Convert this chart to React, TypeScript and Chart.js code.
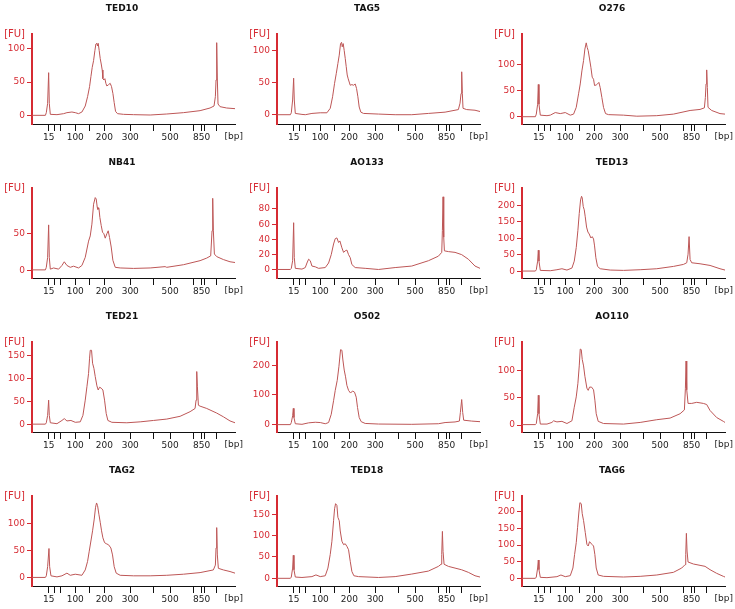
import React, { useRef, useEffect } from "react";
import { Chart, registerables } from "chart.js";

Chart.register(...registerables);

// DNA 1000 ladder: fragment sizes and where they land on the migration axis
const ladderSizes = [15, 25, 50, 100, 150, 200, 300, 400, 500, 700, 850, 1000, 1500];
const ladderTimes = [8.2, 11.0, 13.9, 21.3, 28.4, 35.6, 48.4, 59.8, 68.0, 79.5, 83.6, 85.2, 91.0];
const labelledSizes = [15, 100, 200, 300, 500, 850];

const sampleNames = ["TED10", "TAG5", "O276", "NB41", "AO133", "TED13", "TED21", "O502", "AO110", "TAG2", "TED18", "TAG6"];

// y axis (FU) range and ticks per sample
const yMins = [-13, -14.5, -14, -10, -10.7, -20, -16, -26, -12.6, -16, -18, -23];
const yMaxs = [122, 126, 159, 112, 107.6, 252, 179, 279, 153, 152, 193, 247];
const yTickValues = [
  [0, 50, 100],
  [0, 50, 100],
  [0, 50, 100],
  [0, 50],
  [0, 20, 40, 60, 80],
  [0, 50, 100, 150, 200],
  [0, 50, 100, 150],
  [0, 100, 200],
  [0, 50, 100],
  [0, 50, 100],
  [0, 50, 100, 150],
  [0, 50, 100, 150, 200],
];

// [time, FU]
const ted10 = [[0,0],[6.6,0],[7.05,4],[7.7,18],[8.2,64],[8.52,18],[9.02,1.5],[12.3,1],[15.57,2.5],[17.21,4],[19.67,5],[21.31,4],[22.95,2.5],[24.59,5],[26.23,14],[27.38,28],[28.36,43],[29.02,58],[29.67,72],[30.33,82],[30.98,97],[31.48,107],[31.97,108],[32.3,104],[32.62,108],[33.11,97],[33.61,85],[34.1,77],[34.59,68],[34.92,55],[35.41,53],[35.9,55],[36.39,48],[36.89,44],[37.7,46],[38.52,48],[39.18,43],[39.84,33],[40.49,19],[41.15,6],[42.13,2.5],[45.08,1.5],[50,1],[58.2,0.5],[66.39,2],[74.59,4],[82.79,7],[87.7,11],[89.67,14],[90.33,28],[90.66,53],[90.98,109],[91.31,53],[91.64,17],[92.62,13],[95.9,11],[100,10]];
const tag5 = [[0,0],[6.6,0],[7.05,3],[7.7,23],[8.2,57],[8.52,23],[9.02,2],[12.3,0.5],[13.93,0],[17.21,2],[21.31,3],[24.59,3],[26.23,10],[27.38,28],[28.36,49],[29.18,64],[30,80],[30.66,93],[31.31,111],[31.8,113],[32.13,106],[32.62,111],[33.11,100],[33.61,88],[34.1,75],[34.59,62],[35.08,56],[35.57,51],[36.07,46],[36.89,47],[37.7,46],[38.52,48],[39.18,41],[39.84,28],[40.49,12],[41.31,4],[42.62,2],[50,1],[58.2,0],[66.39,0],[74.59,2],[82.79,4],[89.34,8],[90.16,18],[90.66,33],[90.98,67],[91.31,33],[91.64,10],[93.44,8],[97.54,7],[100,5]];
const o276 = [[0,0],[6.6,0],[7.05,5],[7.7,24],[8.03,62],[8.36,24],[9.02,3],[12.3,2],[13.93,3],[16.39,8],[18.85,6],[21.31,8],[23.77,3],[25.41,5],[26.72,18],[27.87,44],[28.69,63],[29.51,88],[30.33,108],[30.98,130],[31.64,142],[32.13,133],[32.62,127],[33.28,111],[33.93,95],[34.59,76],[35.25,72],[35.74,60],[36.56,61],[37.21,63],[37.87,66],[38.52,56],[39.34,37],[40.16,18],[41.15,6],[42.62,4],[50,3],[56.56,1],[66.39,2],[74.59,5],[82.79,12],[87.7,14],[89.84,17],[90.33,37],[90.66,63],[90.98,90],[91.31,56],[91.64,18],[93.44,12],[97.54,6],[100,5]];
const nb41 = [[0,1],[6.6,1],[7.05,4.5],[7.7,18],[8.2,62],[8.52,18],[9.02,2],[10.66,3.6],[13.11,2],[14.75,7],[15.9,12],[17.21,7],[18.85,4.5],[20.49,6],[22.95,3.6],[24.59,7],[26.23,18],[27.87,40],[28.69,47],[29.51,63],[30.33,90],[31.15,99],[31.64,97],[32.13,86],[32.46,83],[32.95,85],[33.44,72],[34.1,61],[34.75,52],[35.41,50],[36.07,44],[36.89,50],[37.54,54],[38.2,45],[39.02,32],[39.84,14],[41.0,4.5],[43.44,3.6],[50,3],[58.2,3.6],[65.57,5.4],[66.39,4.5],[74.59,8],[82.79,13.5],[86.07,17],[88.03,20],[88.69,54],[89.02,98],[89.34,54],[89.84,22.5],[90.98,19],[94.26,15],[97.54,12],[100,11]];
const ao133 = [[0,0.5],[6.6,0.5],[7.05,2],[7.7,12],[8.2,62],[8.52,16],[9.02,2],[12.3,1],[13.93,3],[14.75,9],[15.57,14],[16.39,12],[17.21,5],[18.85,4],[20.49,2],[23.77,3],[25.41,9],[26.72,20],[27.87,34],[28.69,41],[29.51,42],[30.33,36],[30.98,38],[31.97,29],[32.79,23],[33.61,25],[34.43,26],[35.25,20],[36.07,16],[36.89,7],[38.52,3],[43.44,2],[50,0.5],[58.2,3],[66.39,5],[74.59,12],[79.51,18],[81.15,23],[81.48,52],[81.8,96],[82.13,43],[82.46,25],[84.43,24],[87.7,23],[90.98,20],[94.26,14],[97.54,5],[100,2]];
const ted13 = [[0,1],[6.6,1],[7.05,5],[7.7,31],[8.03,64],[8.36,31],[9.02,3],[13.93,2],[17.21,5],[19.67,8],[22.13,4],[24.59,10],[25.74,31],[26.72,72],[27.54,124],[28.2,175],[28.85,216],[29.34,227],[29.67,222],[30.16,196],[30.66,186],[31.15,165],[31.8,134],[32.46,119],[33.11,113],[33.93,101],[34.59,105],[35.25,98],[35.74,77],[36.39,41],[37.21,15],[38.52,8],[43.44,4],[50,3],[58.2,5],[66.39,8],[74.59,15],[79.51,21],[81.15,26],[81.8,52],[82.3,105],[82.79,36],[83.61,26],[87.7,23],[92.62,18],[97.54,8],[100,4]];
const ted21 = [[0,1],[6.6,1],[7.05,4],[7.7,20],[8.2,53],[8.52,20],[9.02,4],[12.3,2],[14.75,9],[15.9,13],[17.21,8],[19.18,9],[21.31,5],[23.77,6],[25.08,20],[26.23,53],[27.05,82],[27.87,111],[28.36,144],[28.69,161],[29.34,161],[29.84,133],[30.49,122],[31.15,104],[31.97,84],[32.62,75],[33.28,81],[34.1,79],[34.92,75],[35.74,53],[36.56,24],[37.38,9],[39.34,5],[46.72,4],[53.28,6],[59.84,9],[66.39,12],[72.95,18],[77.87,28],[80.33,35],[80.82,53],[81.15,115],[81.48,82],[81.97,42],[82.79,40],[86.07,35],[90.98,25],[94.26,17],[97.54,8],[100,4]];
const o502 = [[0,-1],[6.6,-1],[7.05,6],[7.7,29],[8.03,54],[8.36,23],[9.02,2],[12.3,0],[15.57,5],[18.85,7],[21.31,6],[23.77,2],[25.41,6],[26.72,34],[27.87,80],[28.69,115],[29.67,149],[30.49,195],[31.31,253],[31.97,251],[32.46,218],[33.11,184],[33.77,161],[34.43,132],[35.25,115],[36.23,106],[37.21,113],[38.2,109],[39.02,92],[39.67,57],[40.49,23],[41.48,9],[43.44,3],[50,1],[66.39,0],[79.51,2],[82.79,6],[87.7,8],[89.84,11],[90.33,40],[90.98,84],[91.48,40],[91.97,14],[95.9,11],[100,9]];
const ao110 = [[0,1],[6.6,1],[7.05,3],[7.7,21],[8.03,55],[8.36,21],[9.02,2],[12.3,2],[14.75,5],[15.57,8],[17.21,6],[19.67,7],[22.13,3],[24.59,8],[25.74,33],[26.72,52],[27.54,77],[28.2,109],[28.69,140],[29.18,139],[29.67,121],[30.33,109],[30.98,90],[31.97,68],[32.62,64],[33.28,70],[34.26,70],[35.25,65],[35.9,46],[36.56,21],[37.54,7],[40.16,3],[50,2],[58.2,5],[66.39,10],[72.95,13],[77.87,21],[80,28],[80.49,68],[80.82,118],[81.15,65],[81.8,40],[83.61,40],[86.07,42],[89.34,40],[90.98,38],[92.62,27],[95.9,14],[99.18,7],[100,5]];
const tag2 = [[0,0],[6.6,0],[7.05,3],[7.7,20],[8.36,54],[8.69,20],[9.34,3],[12.3,1],[14.75,3],[17.21,8],[18.85,4],[21.31,6],[24.59,4],[26.23,14],[27.38,30],[28.2,49],[29.02,68],[29.84,87],[30.66,109],[31.31,131],[31.8,139],[32.3,134],[32.95,118],[33.61,103],[34.26,87],[34.92,74],[35.74,65],[36.56,63],[37.7,61],[38.85,55],[39.67,42],[40.49,20],[41.48,8],[43.44,4],[50,3],[58.2,3],[66.39,4],[74.59,6],[82.79,9],[89.34,14],[90.33,23],[90.66,55],[90.98,93],[91.31,42],[91.8,17],[94.26,14],[97.54,11],[100,8]];
const ted18 = [[0,0],[6.6,0],[7.05,3],[7.7,24],[8.03,54],[8.36,20],[9.02,3],[12.3,2],[17.21,4],[19.18,8],[21.31,4],[23.77,6],[25.08,24],[26.23,56],[27.05,87],[27.87,135],[28.36,163],[28.85,175],[29.51,171],[30,143],[30.66,135],[31.15,111],[31.97,87],[32.79,79],[33.61,81],[34.43,75],[35.25,67],[36.07,40],[36.89,16],[37.87,6],[40.16,4],[50,2],[58.2,4],[66.39,10],[74.59,17],[79.51,28],[80.82,33],[81.15,56],[81.48,110],[81.8,63],[82.3,33],[84.43,28],[87.7,24],[90.98,20],[94.26,14],[97.54,6],[100,3]];
const tag6 = [[0,0],[6.6,0],[7.05,4],[7.7,31],[8.03,55],[8.36,26],[9.02,3],[12.3,2],[17.21,5],[19.18,10],[21.31,5],[23.77,8],[25.08,31],[25.9,71],[26.72,107],[27.38,153],[28.03,199],[28.52,227],[29.18,224],[29.67,194],[30.33,173],[31.15,138],[31.97,102],[32.62,97],[33.28,110],[34.43,102],[35.25,97],[35.9,71],[36.56,31],[37.54,10],[40.16,6],[50,4],[58.2,6],[66.39,10],[74.59,18],[78.69,31],[80.33,41],[80.66,71],[80.98,135],[81.31,82],[81.8,49],[84.43,43],[87.7,39],[90.16,36],[92.62,26],[95.9,15],[99.18,6],[100,4]];

const traces = [ted10, tag5, o276, nb41, ao133, ted13, ted21, o502, ao110, tag2, ted18, tag6];

const RED = "#d62b33";
const TRACE = "#bd5656";
const FONT = "'DejaVu Sans', sans-serif";

const panelLabels = {
  id: "panelLabels",
  afterDraw(chart: any, _args: any, opts: any) {
    const { ctx, chartArea } = chart;
    ctx.save();
    ctx.textBaseline = "middle";
    ctx.font = `bold 9px ${FONT}`;
    ctx.fillStyle = "#111";
    ctx.textAlign = "center";
    ctx.fillText(opts.title, 122, 8.5);
    ctx.font = `10px ${FONT}`;
    ctx.fillStyle = RED;
    ctx.textAlign = "right";
    ctx.fillText("[FU]", chartArea.left - 7, chartArea.top);
    ctx.font = `9px ${FONT}`;
    ctx.fillStyle = "#222";
    ctx.fillText("[bp]", chart.width - 2, chartArea.bottom + 12.5);
    ctx.restore();
  },
};

const Panel: React.FC<{ index: number }> = ({ index }) => {
  const chartRef = useRef<HTMLCanvasElement | null>(null);
  const chartInstanceRef = useRef<Chart | null>(null);

  useEffect(() => {
    if (!chartRef.current) return;
    const ctx = chartRef.current.getContext("2d");
    if (!ctx) return;
    if (chartInstanceRef.current) chartInstanceRef.current.destroy();

    chartInstanceRef.current = new Chart(ctx, {
      type: "line",
      data: {
        datasets: [
          {
            data: traces[index].map(([x, y]) => ({ x, y })),
            borderColor: TRACE,
            borderWidth: 1,
            pointRadius: 0,
            tension: 0,
          },
        ],
      },
      options: {
        animation: false,
        responsive: false,
        events: [],
        layout: { padding: { top: 34, right: 10, left: 0, bottom: 0 } },
        plugins: {
          legend: { display: false },
          tooltip: { enabled: false },
          panelLabels: { title: sampleNames[index] },
        } as any,
        scales: {
          x: {
            type: "linear",
            min: 0,
            max: 100,
            afterBuildTicks: (scale: any) => {
              scale.ticks = ladderTimes.map((v) => ({ value: v }));
            },
            afterFit: (scale: any) => {
              scale.height = 23;
            },
            ticks: {
              autoSkip: false,
              maxRotation: 0,
              minRotation: 0,
              padding: 1,
              color: "#222",
              font: { family: FONT, size: 9 },
              callback: (_v: any, i: number) =>
                labelledSizes.includes(ladderSizes[i]) ? String(ladderSizes[i]) : "",
            },
            grid: { drawOnChartArea: false, drawTicks: true, tickLength: 7, color: "#111", lineWidth: 1 },
            border: { display: true, color: "#111", width: 1 },
          },
          y: {
            type: "linear",
            min: yMins[index],
            max: yMaxs[index],
            afterBuildTicks: (scale: any) => {
              scale.ticks = yTickValues[index].map((v) => ({ value: v }));
            },
            afterFit: (scale: any) => {
              scale.width = 32;
            },
            ticks: {
              padding: 2,
              color: RED,
              font: { family: FONT, size: 9 },
            },
            grid: { drawOnChartArea: false, drawTicks: true, tickLength: 5, color: RED, lineWidth: 1 },
            border: { display: true, color: RED, width: 2 },
          },
        },
      },
      plugins: [panelLabels],
    } as any);

    return () => {
      if (chartInstanceRef.current) {
        chartInstanceRef.current.destroy();
        chartInstanceRef.current = null;
      }
    };
  }, [index]);

  return <canvas ref={chartRef} width={245} height={147} style={{ display: "block" }} />;
};

const App: React.FC = () => {
  return (
    <div
      style={{
        position: "absolute",
        left: 0,
        top: 0,
        width: 735,
        height: 609,
        overflow: "hidden",
        background: "#fff",
      }}
    >
      {sampleNames.map((name, i) => (
        <div
          key={name}
          style={{ position: "absolute", left: (i % 3) * 245, top: Math.floor(i / 3) * 154, width: 245, height: 147 }}
        >
          <Panel index={i} />
        </div>
      ))}
    </div>
  );
};

export default App;
